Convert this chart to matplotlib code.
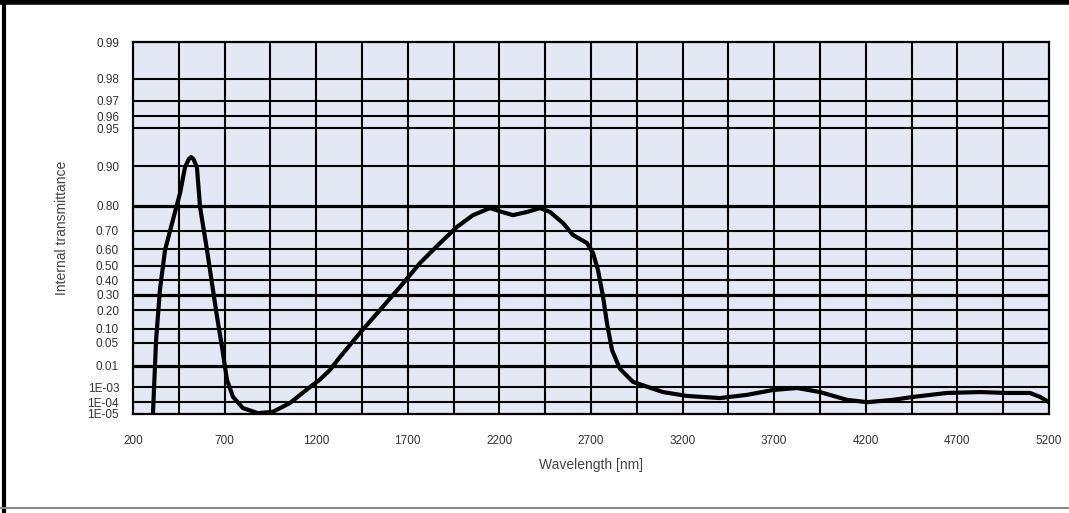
import numpy as np
import matplotlib
matplotlib.use("Agg")
import matplotlib.pyplot as plt
from matplotlib.lines import Line2D

plt.rcParams['font.family'] = ['Liberation Sans', 'DejaVu Sans']

# transmittance curve
wavelength = [300, 309, 326, 347, 375, 418, 457, 484, 505, 517, 530, 549, 566, 604,
              631, 659, 686, 713, 746, 800, 882, 964, 1057, 1166, 1221, 1275, 1330,
              1439, 1548, 1657, 1767, 1876, 1969, 2056, 2149, 2214, 2274, 2351, 2422,
              2476, 2547, 2602, 2678, 2711, 2738, 2766, 2787, 2815, 2858, 2929, 3011,
              3093, 3224, 3404, 3551, 3694, 3825, 3950, 4097, 4207, 4349, 4458, 4643,
              4823, 4971, 5096, 5151, 5200]
transmittance = [5e-6, 1e-5, 0.058, 0.333, 0.597, 0.747, 0.839, 0.898, 0.912, 0.915,
                 0.912, 0.898, 0.796, 0.597, 0.381, 0.159, 0.039, 0.0024, 2.4e-4,
                 3.4e-5, 1.2e-5, 1.6e-5, 8.7e-5, 1.0e-3, 0.0025, 0.0067, 0.020, 0.084,
                 0.20, 0.353, 0.517, 0.636, 0.717, 0.766, 0.792, 0.778, 0.766, 0.778,
                 0.792, 0.778, 0.734, 0.678, 0.636, 0.579, 0.471, 0.285, 0.128, 0.032,
                 0.0075, 1.9e-3, 1.0e-3, 5e-4, 2.8e-4, 2.0e-4, 3.3e-4, 6.7e-4, 8.8e-4,
                 5e-4, 1.5e-4, 1.0e-4, 1.5e-4, 2.4e-4, 4.4e-4, 5e-4, 4.4e-4, 4.4e-4,
                 2.4e-4, 1.0e-4]

y_ticks = [0.99, 0.98, 0.97, 0.96, 0.95, 0.90, 0.80, 0.70, 0.60, 0.50, 0.40, 0.30,
           0.20, 0.10, 0.05, 0.01, 1e-3, 1e-4, 1e-5]
y_labels = ['0.99', '0.98', '0.97', '0.96', '0.95', '0.90', '0.80', '0.70', '0.60',
            '0.50', '0.40', '0.30', '0.20', '0.10', '0.05', '0.01', '1E-03', '1E-04',
            '1E-05']
x_ticks = [200, 700, 1200, 1700, 2200, 2700, 3200, 3700, 4200, 4700, 5200]
thick_lines = [0.80, 0.30, 0.01]


def fwd(t):
    t = np.clip(np.asarray(t, dtype=float), 1e-300, 1 - 1e-12)
    return -np.log10(-np.log(t))


def inv(v):
    return np.exp(-10.0 ** (-np.asarray(v, dtype=float)))


fig = plt.figure(figsize=(10.69, 5.13), dpi=100)
ax = fig.add_axes([0.1244, 0.193, 0.8569, 0.7251])
ax.set_facecolor('#e4e8f4')
ax.set_yscale('function', functions=(fwd, inv))
ax.set_xlim(200, 5200)
ax.set_ylim(1e-5, 0.99)

# grid: vertical every 250 nm, horizontal at every labelled value
for xv in np.arange(450, 5200, 250):
    ax.axvline(xv, color='black', lw=1.5, zorder=1)
for yv in y_ticks[1:-1]:
    ax.axhline(yv, color='black', lw=2.3 if yv in thick_lines else 1.5, zorder=1)

ax.plot(wavelength, transmittance, color='black', lw=3, zorder=3,
        solid_joinstyle='round', solid_capstyle='round')

ax.set_xticks(x_ticks)
ax.set_xticklabels([str(v) for v in x_ticks])
ax.set_yticks(y_ticks)
ax.set_yticklabels(y_labels)
ax.minorticks_off()
ax.tick_params(axis='both', length=0, labelsize=8.5, labelcolor='#333333')
ax.tick_params(axis='x', pad=15)
ax.tick_params(axis='y', pad=10)
for s in ax.spines.values():
    s.set_linewidth(1.6)
    s.set_color('black')

ax.set_xlabel('Wavelength [nm]', fontsize=10, color='#444444', labelpad=8)
ax.set_ylabel('Internal transmittance', fontsize=10, color='#444444', labelpad=13)

# outer frame of the picture
fig.add_artist(Line2D([0, 1], [0.996, 0.996], transform=fig.transFigure, color='black', lw=4))
fig.add_artist(Line2D([0.004, 0.004], [0, 1], transform=fig.transFigure, color='black', lw=3))
fig.add_artist(Line2D([0, 1], [0.01, 0.01], transform=fig.transFigure, color='#888888', lw=1.5))

fig.savefig('out.png', dpi=100)
